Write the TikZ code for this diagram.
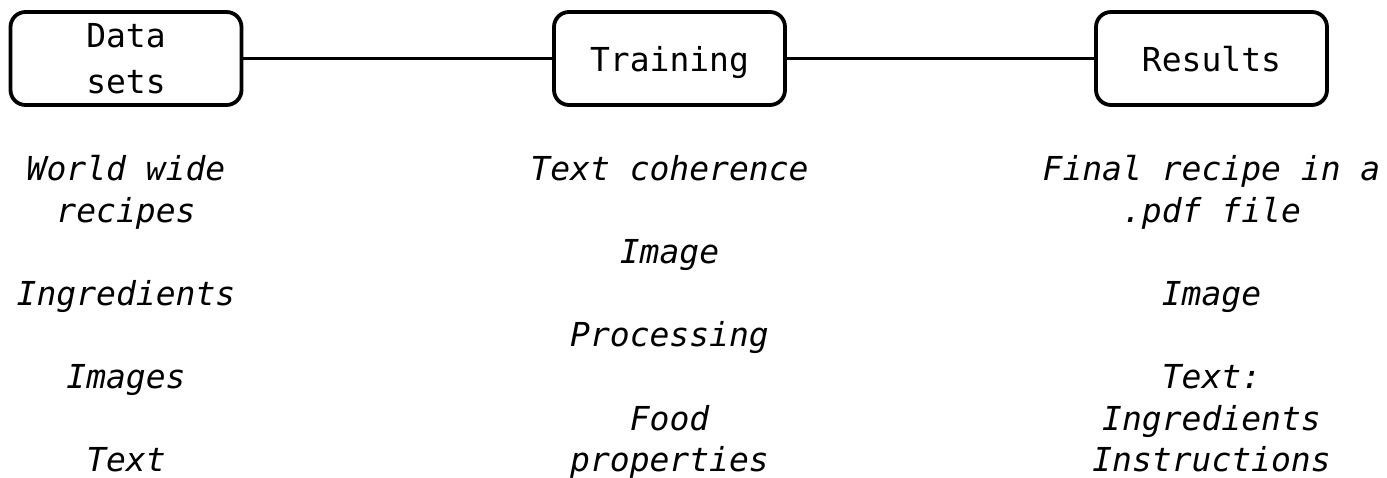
\documentclass[tikz,border=0pt]{standalone}
\usepackage{fontspec}
\newfontfamily\mono{DejaVu Sans Mono}[ItalicFont={DejaVu Sans Mono Oblique}]
\begin{document}
\begin{tikzpicture}[x=1pt,y=-1pt,
  stage/.style={draw=black, line width=3.8pt, rounded corners=15pt,
    minimum width=231pt, minimum height=93pt, inner sep=0pt,
    align=center, font={\mono\fontsize{33}{46}\selectfont}},
  oneline/.style={text height=27pt, text depth=0pt},
  link/.style={draw=black, line width=3.8pt},
  item/.style={anchor=base, inner sep=0pt, font={\mono\itshape\fontsize{33}{41.5}\selectfont}}]
  \useasboundingbox (0,0) rectangle (1387,478);

  % pipeline stages
  \node[stage] (ds) at (126,58.5) {Data\\sets};
  \node[stage, oneline] (tr) at (669.5,58.5) {Training};
  \node[stage, oneline] (rs) at (1211.5,58.5) {Results};
  \draw[link] (ds) -- (tr);
  \draw[link] (tr) -- (rs);

  % data sets
  \node[item] (d1) at (126,181) {World wide};
  \node[item] (d2) at (126,222.5) {recipes};
  \node[item] (d3) at (126,305.5) {Ingredients};
  \node[item] (d4) at (126,388.5) {Images};
  \node[item] (d5) at (126,471.5) {Text};

  % training
  \node[item] (t1) at (669.5,181) {Text coherence};
  \node[item] (t2) at (669.5,264) {Image};
  \node[item] (t3) at (669.5,347) {Processing};
  \node[item] (t4) at (669.5,430) {Food};
  \node[item] (t5) at (669.5,471.5) {properties};

  % results
  \node[item] (r1) at (1211.5,181) {Final recipe in a};
  \node[item] (r2) at (1211.5,222.5) {.pdf file};
  \node[item] (r3) at (1211.5,305.5) {Image};
  \node[item] (r4) at (1211.5,388.5) {Text:};
  \node[item] (r5) at (1211.5,430) {Ingredients};
  \node[item] (r6) at (1211.5,471.5) {Instructions};
\end{tikzpicture}
\end{document}
